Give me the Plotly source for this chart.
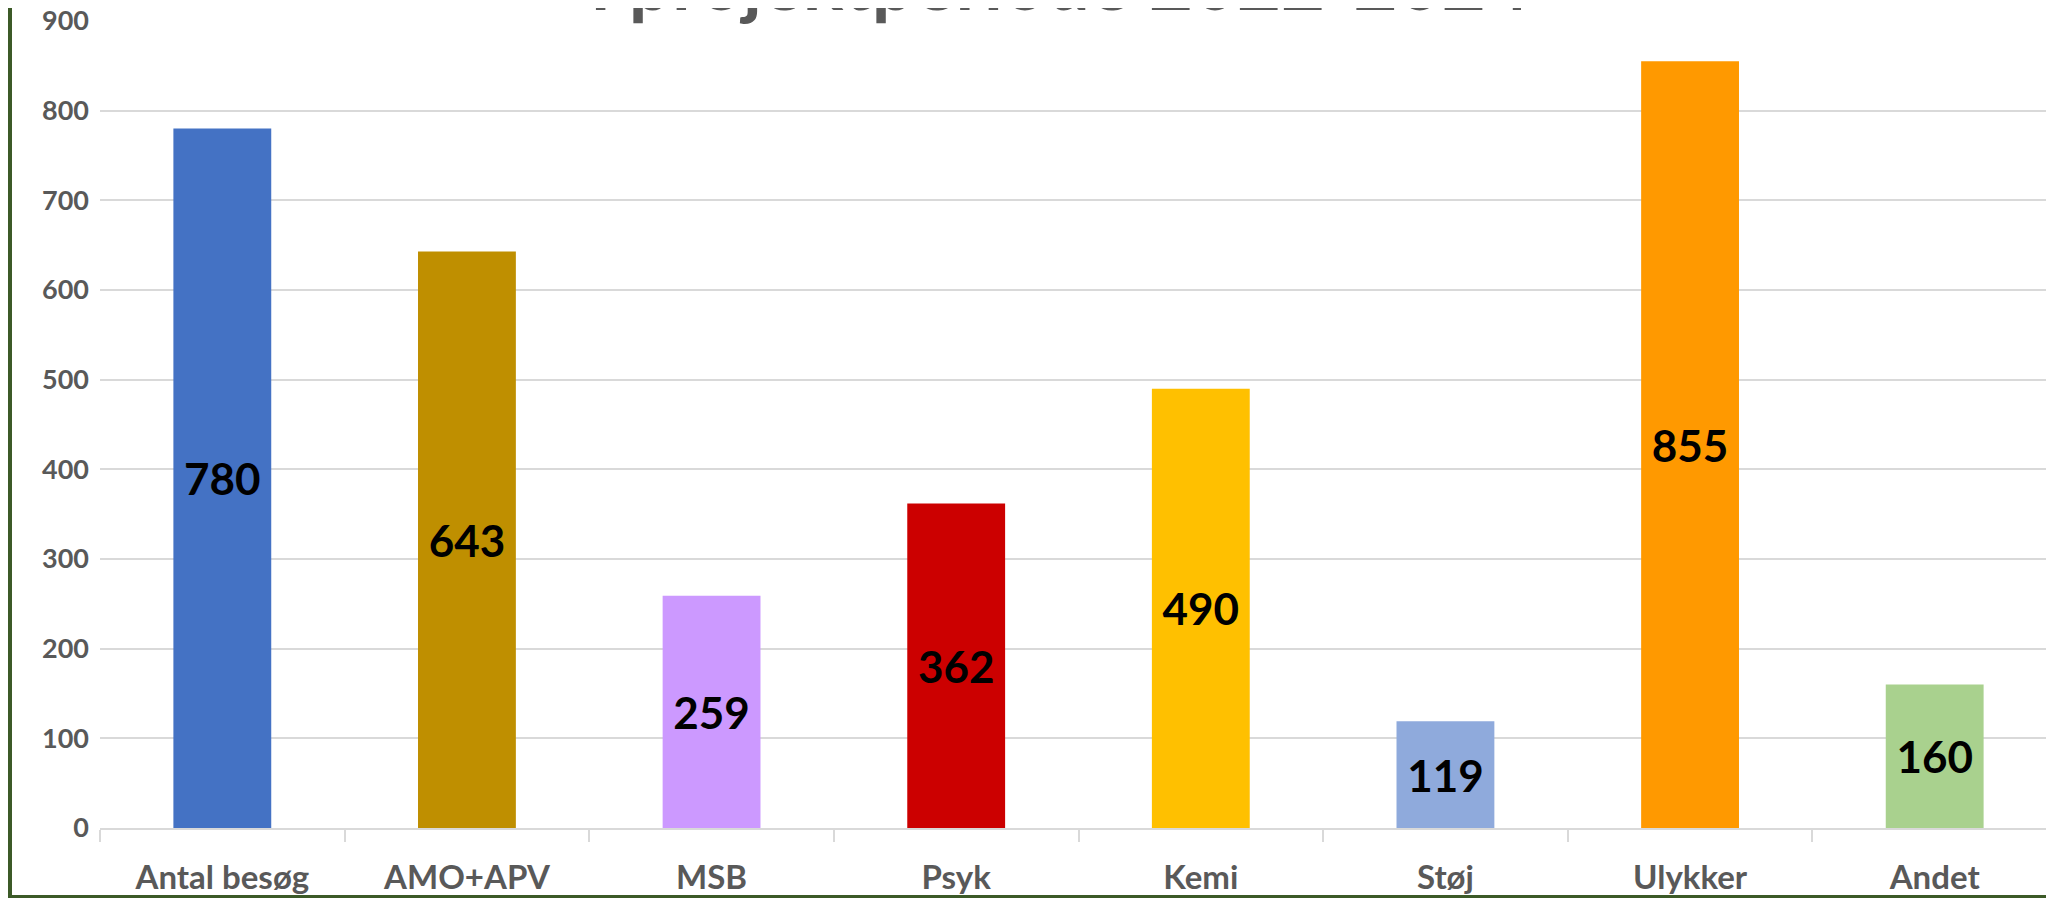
import plotly.graph_objects as go

categories = ["Antal besøg", "AMO+APV", "MSB", "Psyk", "Kemi", "Støj", "Ulykker", "Andet"]
values = [780, 643, 259, 362, 490, 119, 855, 160]
colors = ["#4472C4", "#BF8F00", "#CC99FF", "#CC0000", "#FFC000", "#8FAADC", "#FF9900", "#A9D18E"]
y_ticks = [0, 100, 200, 300, 400, 500, 600, 700, 800, 900]
title_text = "i projektperiode 2022-2024"

W, H = 2054, 898
OFF = 8  # page body margin offset of the rendered figure
L, R, T, B = 92, 5, 13, 78
PW, PH = W - L - R, H - T - B
FONT = "Lato, sans-serif"


def px(xs):
    return (xs - OFF - L) / PW


def py(ys):
    return (T + PH - (ys - OFF)) / PH


fig = go.Figure(
    go.Bar(
        x=categories,
        y=values,
        marker=dict(color=colors, line=dict(width=0)),
        text=[str(v) for v in values],
        textposition="inside",
        insidetextanchor="middle",
        textangle=0,
        constraintext="none",
        textfont=dict(family=FONT, size=44, color="#000000", weight="bold"),
        hoverinfo="skip",
    )
)

fig.update_layout(
    width=W,
    height=H,
    margin=dict(l=L, r=R, t=T, b=B, pad=0, autoexpand=False),
    paper_bgcolor="#FFFFFF",
    plot_bgcolor="#FFFFFF",
    bargap=0.6,
    showlegend=False,
    font=dict(family=FONT, color="#595959"),
)

fig.update_xaxes(
    type="category",
    automargin=False,
    range=[-0.5, 7.5],
    showline=True,
    linecolor="#D9D9D9",
    linewidth=1.5,
    ticks="outside",
    tickson="boundaries",
    ticklen=12,
    tickwidth=1.5,
    tickcolor="#D9D9D9",
    showgrid=False,
    tickfont=dict(family=FONT, size=33, color="#595959", weight="bold"),
    ticklabelstandoff=20,
    ticklabeloverflow="allow",
)

fig.update_yaxes(
    automargin=False,
    range=[0, 900],
    tickvals=y_ticks,
    ticktext=[str(v) for v in y_ticks],
    showgrid=True,
    gridcolor="#D9D9D9",
    gridwidth=1.5,
    zeroline=False,
    showline=False,
    ticks="",
    tickfont=dict(family=FONT, size=27, color="#595959", weight="bold"),
    ticklabelstandoff=10,
    ticklabeloverflow="allow",
)

fig.add_annotation(
    text=title_text,
    xref="paper",
    yref="paper",
    x=px(1060),
    y=py(-19),
    xanchor="center",
    yanchor="middle",
    showarrow=False,
    font=dict(family=FONT, size=76, color="#595959", weight="bold"),
)

border = "#3C5A28"
fig.add_shape(type="rect", xref="paper", yref="paper",
              x0=px(4), x1=px(12), y0=py(H + 20), y1=py(-20),
              fillcolor=border, line=dict(width=0), layer="above")
fig.add_shape(type="rect", xref="paper", yref="paper",
              x0=px(4), x1=px(W + 20), y0=py(H + 20), y1=py(895),
              fillcolor=border, line=dict(width=0), layer="above")

fig.write_html("out.html")
